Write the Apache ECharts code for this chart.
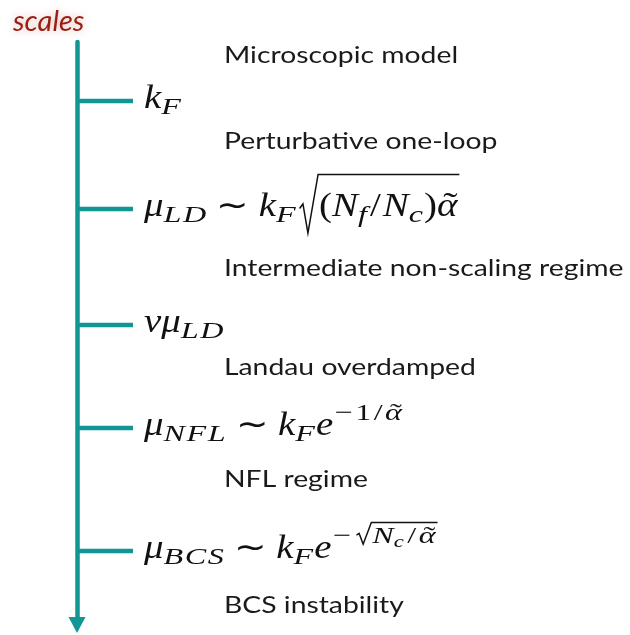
<!DOCTYPE html>
<html><head><meta charset="utf-8">
<script src="https://cdn.jsdelivr.net/npm/echarts/dist/echarts.min.js"></script>
<style>html,body{margin:0;padding:0;background:#fff}#c{width:630px;height:635px}</style>
</head><body><div id="c"></div>
<script>
// ---------- data ----------
// position of each characteristic scale along the (downward) scale axis
const scaleLevels = [59, 167, 283, 386, 509];
// the scale labels, as math tokens
const scaleLabels = [
  [{t:'k'},{t:'F',sub:1}],
  [{t:'μ'},{t:'LD',sub:1},{t:'∼',op:1},{t:'k'},{t:'F',sub:1},
   {sqrt:[{t:'(',up:1},{t:'N'},{t:'f',sub:1},{t:'/',up:1},{t:'N'},{t:'c',sub:1},{t:')',up:1},{t:'α',tilde:1}]}],
  [{t:'v'},{t:'μ'},{t:'LD',sub:1}],
  [{t:'μ'},{t:'NFL',sub:1},{t:'∼',op:1},{t:'k'},{t:'F',sub:1},{t:'e'},
   {sup:[{t:'−',up:1},{t:'1',up:1},{t:'/',up:1},{t:'α',tilde:1}]}],
  [{t:'μ'},{t:'BCS',sub:1},{t:'∼',op:1},{t:'k'},{t:'F',sub:1},{t:'e'},
   {sup:[{t:'−',up:1},{sqrt:[{t:'N'},{t:'c',sub:1},{t:'/',up:1},{t:'α',tilde:1}]}]}]
];
// regimes lying between the scales
const regimeLevels = [21, 107, 234, 333, 445, 571];
const regimeNames = ['Microscopic model', 'Perturbative one-loop', 'Intermediate non-scaling regime',
  'Landau overdamped', 'NFL regime', 'BCS instability'];
const axisTitle = 'scales';

// ---------- style ----------
const TEAL = '#119595';
const INK = '#111111';
const TICK_LEN = 56, LABEL_GAP = 67, BASE_SHIFT = 7, REGIME_X = 147;
const SIZES = [33, 24, 17];
const SX = [1.18, 1.34, 1.34];
const SUB_GAP = 1.5;                 // extra spacing between letters of multi-letter subscripts
const SYM_PAD = {'−': [0.02, 0.1], '/': [0.1, 0.1]};   // side padding (em) of upright symbols in scripts
const MAIN_SLASH_PAD = 0.06;
const SUP_SHIFT = [15, 9], SUB_SHIFT = [6, 3.5];
const RAD = [{top: 1.26, bot: 0.52, w: 0.56}, {top: 0.85, bot: 0.05, w: 0.62}];
const MATH_FONT = '"Liberation Serif"';
const REGIME_FONT = '24px Lato', REGIME_SX = 1.18;

const ctx = document.createElement('canvas').getContext('2d');
function measure(t, f) { ctx.font = f; ctx.textBaseline = 'alphabetic'; return ctx.measureText(t).width; }
const midCache = {};
function midOff(f) {
  if (midCache[f] != null) return midCache[f];
  ctx.font = f; ctx.textBaseline = 'middle';
  const m = ctx.measureText('H').actualBoundingBoxDescent;
  ctx.textBaseline = 'alphabetic';
  const a = ctx.measureText('H').actualBoundingBoxDescent;
  return (midCache[f] = m - a);
}
function lv(level) { return Math.min(level, 2); }
function mfont(level, up) { return (up ? '' : 'italic ') + SIZES[lv(level)] + 'px ' + MATH_FONT; }
function text(t, x, base, f, out, sx, color, align) {
  out.push({type: 'text', x: x, y: base - midOff(f), scaleX: sx,
    style: {text: t, font: f, fill: color || INK, align: align || 'left', verticalAlign: 'middle'}});
  return x + measure(t, f) * sx;
}
function glyph(tk, x, base, level, out) {
  const f = mfont(level, tk.up), sx = SX[lv(level)], fs = SIZES[lv(level)];
  let x2;
  if (level > 0 && tk.up && SYM_PAD[tk.t]) {
    const pd = SYM_PAD[tk.t];
    x2 = text(tk.t, x + pd[0] * fs, base, f, out, sx) + pd[1] * fs;
  } else if (level === 0 && tk.t === '/') {
    x2 = text(tk.t, x + MAIN_SLASH_PAD * fs, base, f, out, sx) + MAIN_SLASH_PAD * fs;
  } else if (level > 0 && tk.t.length > 1) {
    x2 = x;
    const chars = Array.from(tk.t);
    chars.forEach((c, i) => { x2 = text(c, x2, base, f, out, sx) + (i < chars.length - 1 ? SUB_GAP : 0); });
  } else {
    x2 = text(tk.t, x, base, f, out, sx);
  }
  if (tk.tilde) {
    text('˜', (x + x2) / 2 + 0.1 * fs, base, fs + 'px ' + MATH_FONT, out, sx * 1.1, INK, 'center');
  }
  return x2;
}
function laySqrt(tokens, x, base, level, out) {
  const fs = SIZES[lv(level)], r = RAD[Math.min(level, 1)];
  const W = r.w * fs, top = base - r.top * fs, bottom = base + r.bot * fs, H = bottom - top;
  const inner = [];
  const xEnd = lay(tokens, x + W + 1, base, level, inner);
  out.push({type: 'polyline', shape: {points: [
      [x, bottom - 0.42 * H], [x + 0.18 * W, bottom - 0.5 * H], [x + 0.45 * W, bottom],
      [x + W, top], [xEnd + 2, top]]},
    style: {stroke: INK, lineWidth: 1.5, fill: null, lineJoin: 'miter'}});
  inner.forEach(e => out.push(e));
  return xEnd + 2;
}
function lay(tokens, x, base, level, out) {
  for (const tk of tokens) {
    if (tk.sqrt) { x = laySqrt(tk.sqrt, x + 3, base, level, out); continue; }
    if (tk.sup) { x = lay(tk.sup, x + 1, base - SUP_SHIFT[Math.min(level, 1)], level + 1, out); continue; }
    if (tk.sub) { x = glyph(tk, x, base + SUB_SHIFT[Math.min(level, 1)], level + 1, out) + 1; continue; }
    if (tk.op) {
      const pad = SIZES[lv(level)] * 0.28;
      x = text(tk.t, x + pad, base, mfont(level, true), out, SX[lv(level)]) + pad; continue;
    }
    x = glyph(tk, x, base, level, out);
  }
  return x;
}

function renderScale(params, api) {
  const p = api.coord([0, api.value(1)]);
  const children = [{type: 'line', shape: {x1: p[0], y1: p[1], x2: p[0] + TICK_LEN, y2: p[1]},
    style: {stroke: TEAL, lineWidth: 4.5}}];
  lay(scaleLabels[params.dataIndex], p[0] + LABEL_GAP, p[1] + BASE_SHIFT, 0, children);
  return {type: 'group', children: children};
}
function renderRegime(params, api) {
  const p = api.coord([0, api.value(1)]);
  const out = [];
  text(regimeNames[params.dataIndex], p[0] + REGIME_X, p[1], REGIME_FONT, out, REGIME_SX, '#1a1a1a');
  return {type: 'group', children: out};
}

const chart = echarts.init(document.getElementById('c'), null, {renderer: 'canvas'});
chart.setOption({
  animation: false,
  backgroundColor: '#fff',
  title: {text: axisTitle, left: 8, top: 2,
    textStyle: {fontFamily: 'Lato', fontStyle: 'italic', fontWeight: 'normal', fontSize: 29,
      color: '#9a1d12', textShadowColor: 'rgba(170,40,30,0.35)', textShadowBlur: 8}},
  grid: {left: 77, top: 42, right: 0, bottom: 10},
  xAxis: {type: 'value', min: 0, max: 553, show: false},
  yAxis: {type: 'value', min: 0, max: 583, inverse: true,
    axisLine: {show: true, onZero: false, symbol: ['triangle', 'none'], symbolSize: [17, 16],
      lineStyle: {color: TEAL, width: 4.5}},
    axisTick: {show: false}, axisLabel: {show: false}, splitLine: {show: false}},
  series: [
    {type: 'custom', renderItem: renderScale, data: scaleLevels.map(v => [0, v]), clip: false, silent: true},
    {type: 'custom', renderItem: renderRegime, data: regimeLevels.map(v => [0, v]), clip: false, silent: true}
  ]
});
</script></body></html>
